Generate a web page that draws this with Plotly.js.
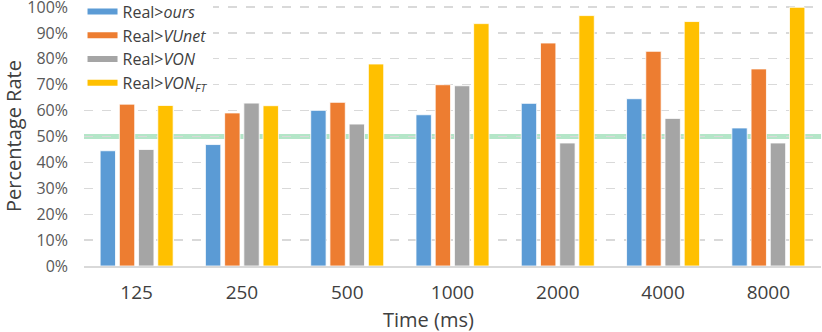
<!DOCTYPE html>
<html>
<head>
<meta charset="utf-8">
<script src="https://cdn.plot.ly/plotly-3.0.1.min.js"></script>
<style>
  html, body { margin: 0; padding: 0; background: #fff; }
  #chart { width: 822px; height: 332px; }
</style>
</head>
<body>
<div id="chart"></div>
<script>
// valeurs (en %)
var times = ["125", "250", "500", "1000", "2000", "4000", "8000"];
var ours  = [44.5, 46.9, 60.1, 58.4, 62.8, 64.6, 53.3];
var vunet = [62.5, 59.1, 63.2, 70.0, 86.1, 82.9, 76.1];
var von   = [45.0, 62.9, 54.8, 69.6, 47.5, 57.0, 47.5];
var vonft = [62.0, 61.9, 78.0, 93.6, 96.7, 94.4, 99.9];
var yTicks = [0, 10, 20, 30, 40, 50, 60, 70, 80, 90, 100];
var chance = 50;

var names = ["Real&gt;<i>ours</i>", "Real&gt;<i>VUnet</i>", "Real&gt;<i>VON</i>", "Real&gt;<i>VON</i><sub><i>FT</i></sub>"];
var colors = ["#5b9bd5", "#ed7d31", "#a5a5a5", "#ffc000"];
var series = [ours, vunet, von, vonft];

var data = [];
series.forEach(function (s, i) {
    data.push({
        x: times,
        y: s,
        type: 'bar',
        name: names[i],
        showlegend: false,
        marker: { color: colors[i], line: { color: '#ffffff', width: 0.8 } },
        hoverinfo: 'x+y'
    });
});
// entrées de légende en forme de trait
series.forEach(function (s, i) {
    data.push({
        x: [null],
        y: [null],
        type: 'scatter',
        mode: 'lines',
        name: names[i],
        line: { color: colors[i], width: 6 },
        hoverinfo: 'skip'
    });
});

var layout = {
    width: 822,
    height: 332,
    margin: { l: 84, r: 1, t: 6, b: 66, autoexpand: false },
    paper_bgcolor: '#ffffff',
    plot_bgcolor: '#ffffff',
    font: { family: 'Open Sans, sans-serif', color: '#404040' },
    barmode: 'group',
    bargap: 0.27,
    bargroupgap: 0.2,
    showlegend: true,
    legend: {
        x: -0.002, y: 1.044, xanchor: 'left', yanchor: 'top',
        bgcolor: '#ffffff',
        font: { size: 16, color: '#404040' },
        itemwidth: 30,
        tracegroupgap: 0
    },
    xaxis: {
        type: 'category',
        showgrid: false,
        showline: true,
        linecolor: '#d9d9d9',
        linewidth: 1.5,
        ticks: '',
        tickfont: { size: 19, color: '#404040' },
        ticklabelstandoff: 9
    },
    yaxis: {
        range: [0, 100.4],
        tickvals: yTicks,
        ticktext: yTicks.map(function (v) { return v + '%'; }),
        showgrid: true,
        gridcolor: '#d9d9d9',
        gridwidth: 1.3,
        griddash: 'dash',
        zeroline: false,
        ticks: '',
        ticklabeloverflow: 'allow',
        tickfont: { size: 16, color: '#595959' },
        ticklabelstandoff: 15,
        title: { text: 'Percentage Rate', font: { size: 20, color: '#404040' }, standoff: 1 }
    },
    annotations: [{
        text: 'Time (ms)',
        xref: 'paper', yref: 'paper',
        x: 0.468, y: 0, xanchor: 'center', yanchor: 'middle',
        yshift: -53,
        showarrow: false,
        font: { size: 20, color: '#404040' }
    }],
    shapes: [{
        type: 'line', xref: 'paper', yref: 'y',
        x0: 0, x1: 1, y0: chance, y1: chance,
        line: { color: '#b4e6c8', width: 5 },
        layer: 'below'
    }]
};

Plotly.newPlot('chart', data, layout, { displayModeBar: false, staticPlot: true });
</script>
</body>
</html>
